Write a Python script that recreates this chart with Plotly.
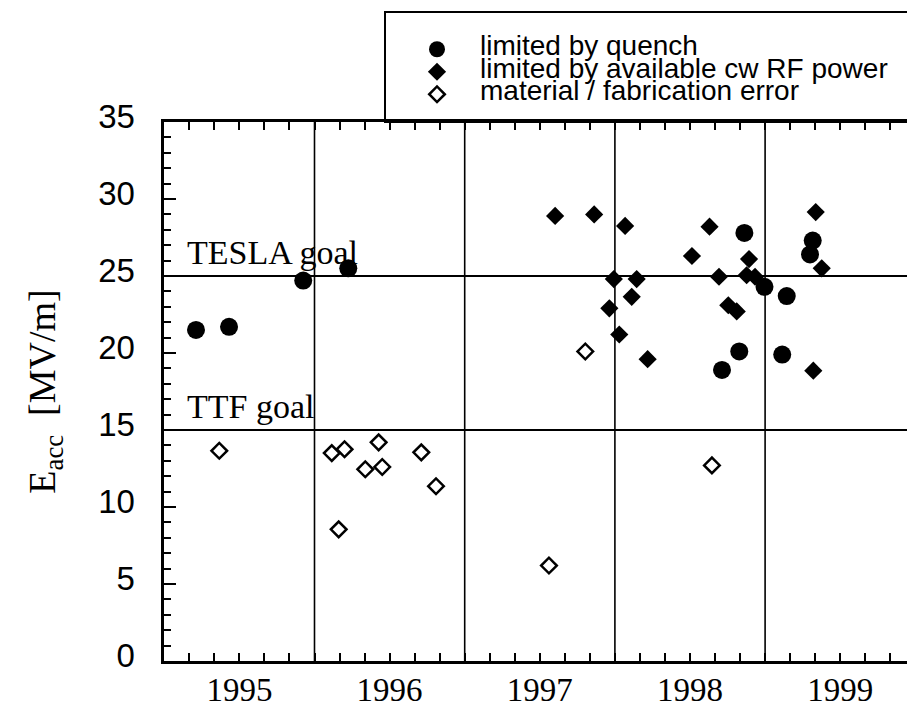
import plotly.graph_objects as go

W, H = 907, 704

# ---- data ----
quench_x = [1995.211, 1995.431, 1995.925, 1996.225, 1998.862, 1999.317, 1999.299,
            1998.996, 1999.144, 1998.828, 1998.713, 1999.114]
quench_y = [21.5, 21.7, 24.7, 25.5, 27.8, 27.3, 26.4, 24.3, 23.7, 20.1, 18.9, 19.9]

rf_x = [1997.602, 1997.862, 1998.068, 1998.630, 1999.337, 1998.513, 1998.893,
        1997.993, 1998.145, 1998.693, 1998.877, 1998.933, 1998.112, 1997.963,
        1998.755, 1998.811, 1998.029, 1998.218, 1999.321, 1999.377]
rf_y = [28.9, 29.0, 28.25, 28.2, 29.15, 26.3, 26.1, 24.8, 24.8, 24.95, 25.05,
        24.95, 23.65, 22.9, 23.1, 22.7, 21.2, 19.6, 18.85, 25.5]

mat_x = [1995.366, 1996.115, 1996.200, 1996.427, 1996.338, 1996.451, 1996.711,
         1996.809, 1996.161, 1997.561, 1997.803, 1998.646]
mat_y = [13.65, 13.5, 13.75, 14.2, 12.45, 12.6, 13.55, 11.35, 8.55, 6.2, 20.1, 12.7]

series_names = ["limited by quench",
                "limited by available cw RF power",
                "material / fabrication error"]

year_labels = ["1995", "1996", "1997", "1998", "1999"]
year_centers = [1995.5, 1996.5, 1997.5, 1998.5, 1999.5]
year_bounds = [1996, 1997, 1998, 1999]
goal_levels = [25, 15]
goal_labels = ["TESLA goal", "TTF goal"]
y_ticks = [0, 5, 10, 15, 20, 25, 30, 35]

# ---- layout geometry (pixels) ----
x_left_px, px_per_year = 164.3, 150.2
x_max = 1995 + (W - x_left_px) / px_per_year
y_bottom_px, y_top_px = 661, 122


def legend_label(s):
    return '<span style="font-size:28px">' + s + '</span>'


fig = go.Figure()
fig.add_trace(go.Scatter(
    x=quench_x, y=quench_y, mode="markers", name=legend_label(series_names[0]),
    marker=dict(symbol="circle", size=18, color="black")))
fig.add_trace(go.Scatter(
    x=rf_x, y=rf_y, mode="markers", name=legend_label(series_names[1]),
    marker=dict(symbol="diamond", size=14, color="black")))
fig.add_trace(go.Scatter(
    x=mat_x, y=mat_y, mode="markers", name=legend_label(series_names[2]),
    marker=dict(symbol="diamond-open", size=12, color="black",
                line=dict(width=2.5, color="black"))))

shapes = []
for lv in goal_levels:
    shapes.append(dict(type="line", xref="x domain", yref="y", x0=0, x1=1,
                       y0=lv, y1=lv, line=dict(color="black", width=2.2),
                       layer="below"))
for xb in year_bounds:
    shapes.append(dict(type="line", xref="x", yref="y domain", x0=xb, x1=xb,
                       y0=0, y1=1, line=dict(color="black", width=1.6),
                       layer="below"))
# legend frame
shapes.append(dict(type="rect", xref="paper", yref="paper",
                   x0=385 / W, x1=1.02, y0=1 - 122 / H, y1=1 - 12 / H,
                   line=dict(color="black", width=2),
                   fillcolor="rgba(0,0,0,0)", layer="above"))

annotations = []
for lv, txt in zip(goal_levels, goal_labels):
    annotations.append(dict(x=1995.14, y=lv, xref="x", yref="y", text=txt,
                            showarrow=False, xanchor="left", yanchor="bottom",
                            yshift=3,
                            font=dict(family="Liberation Serif", size=34,
                                      color="black")))

fig.update_layout(
    width=W, height=H,
    margin=dict(l=0, r=0, t=0, b=0, autoexpand=False),
    paper_bgcolor="white", plot_bgcolor="white",
    shapes=shapes, annotations=annotations,
    showlegend=True,
    legend=dict(x=394 / W, y=1 - 33 / H, xanchor="left", yanchor="top",
                bgcolor="rgba(0,0,0,0)", borderwidth=0, itemwidth=76,
                font=dict(family="Liberation Sans", size=15, color="black")),
    xaxis=dict(
        domain=[x_left_px / W, 1], range=[1995, x_max], automargin=False,
        tickmode="array", tickvals=year_centers, ticktext=year_labels,
        ticks="inside", ticklen=8, tickwidth=1.5, tickcolor="black",
        ticklabelstandoff=-2,
        minor=dict(tick0=1995, dtick=1 / 6, ticks="inside", ticklen=8,
                   tickwidth=1.5, tickcolor="black", showgrid=False),
        showgrid=False, zeroline=False,
        showline=True, linecolor="black", linewidth=2.5, mirror="ticks",
        tickfont=dict(family="Liberation Serif", size=33, color="black")),
    yaxis=dict(
        domain=[1 - y_bottom_px / H, 1 - y_top_px / H], range=[0, 35],
        automargin=False,
        tickmode="array", tickvals=y_ticks,
        ticks="inside", ticklen=12, tickwidth=1.5, tickcolor="black",
        ticklabelstandoff=20, ticklabelshift=-6,
        minor=dict(dtick=1, ticks="inside", ticklen=7, tickwidth=1.5,
                   tickcolor="black", showgrid=False),
        showgrid=False, zeroline=False,
        showline=True, linecolor="black", linewidth=2.5,
        tickfont=dict(family="Liberation Sans", size=33, color="black"),
        title=dict(text="E<sub>acc</sub>  [MV/m]", standoff=31,
                   font=dict(family="Liberation Serif", size=38,
                             color="black"))),
)

fig.write_html("out.html")
